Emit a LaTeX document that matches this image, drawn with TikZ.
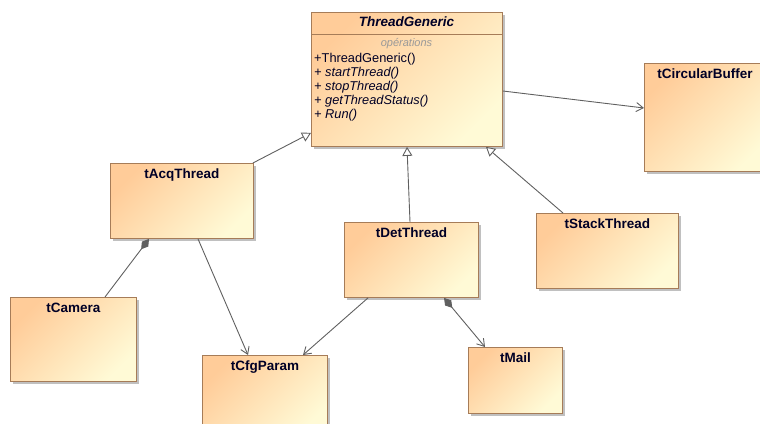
\documentclass[tikz,border=0pt]{standalone}
\usepackage{fontspec}
\setmainfont{Liberation Sans}
\usetikzlibrary{arrows.meta,shadows}
\definecolor{boxorange}{RGB}{255,204,153}
\definecolor{boxcream}{RGB}{255,250,214}
\definecolor{boxedge}{RGB}{166,124,88}
\definecolor{linkgray}{RGB}{96,96,96}
\tikzset{
  cls/.style={draw=boxedge, line width=0.9pt, inner sep=0pt, anchor=north west,
    top color=boxorange, bottom color=boxcream, shading angle=45,
    drop shadow={shadow xshift=3pt, shadow yshift=-3pt, fill=black!45, opacity=0.55}},
  ttl/.style={anchor=base, font=\fontsize{13.5}{15}\selectfont\bfseries, inner sep=0pt, text=black!85!blue},
  op/.style={anchor=base west, font=\fontsize{12.8}{14}\selectfont, inner sep=0pt, text=black!85!blue},
  opcat/.style={anchor=base, font=\fontsize{11}{13}\selectfont\itshape, inner sep=0pt, text=black!40},
  rel/.style={draw=linkgray, line width=0.9pt},
  gen/.style={rel, -{Triangle[open, length=9pt, width=10pt, fill=white]}},
  assoc/.style={rel, -{Straight Barb[length=7pt, width=9pt]}},
  comp/.style={rel, {Diamond[length=13pt, width=8pt, fill=linkgray]}-},
  compnav/.style={rel, {Diamond[length=13pt, width=8pt, fill=linkgray]}-{Straight Barb[length=7pt, width=9pt]}},
}
\begin{document}
\begin{tikzpicture}[x=1pt, y=-1pt]
\useasboundingbox (0,0) rectangle (760,423);
\begin{scope}
\clip (0,0) rectangle (760,423);

% class boxes
\node[cls, minimum width=191pt, minimum height=134pt] (tg) at (311,12) {};
\node[cls, minimum width=143pt, minimum height=75pt] (acq) at (110,163) {};
\node[cls, minimum width=134pt, minimum height=75pt] (det) at (344,222) {};
\node[cls, minimum width=142pt, minimum height=75pt] (stack) at (536,213) {};
\node[cls, minimum width=126pt, minimum height=108pt] (circ) at (644,63) {};
\node[cls, minimum width=126pt, minimum height=84pt] (cam) at (10,297) {};
\node[cls, minimum width=125pt, minimum height=80pt] (cfg) at (202,355) {};
\node[cls, minimum width=94pt, minimum height=66pt] (mail) at (468,347) {};

% ThreadGeneric compartments
\draw[boxedge, line width=0.9pt] (311,34) -- (502,34);
\node[ttl, font=\fontsize{13.5}{15}\selectfont\bfseries\itshape] (tgname) at (406.5,27) {ThreadGeneric};
\node[opcat] (tgops) at (406.5,46) {opérations};
\node[op] (op1) at (314,62) {+ThreadGeneric()};
\node[op] (op2) at (314,76.2) {\itshape + startThread()};
\node[op] (op3) at (314,90.4) {\itshape + stopThread()};
\node[op] (op4) at (314,104.6) {\itshape + getThreadStatus()};
\node[op] (op5) at (314,118.8) {\itshape + Run()};

% class names
\node[ttl] (acqname) at ([yshift=-15.5pt]acq.north) {tAcqThread};
\node[ttl] (detname) at ([yshift=-15.5pt]det.north) {tDetThread};
\node[ttl] (stackname) at ([yshift=-15.5pt]stack.north) {tStackThread};
\node[ttl] (circname) at (705,78.5) {tCircularBuffer};
\node[ttl] (camname) at ([yshift=-15.5pt]cam.north) {tCamera};
\node[ttl] (cfgname) at ([yshift=-15.5pt]cfg.north) {tCfgParam};
\node[ttl] (mailname) at ([yshift=-15.5pt]mail.north) {tMail};

% inheritance
\draw[gen] ([xshift=-1pt]acq.north east) -- ([yshift=14pt]tg.south west);
\draw[gen] ([xshift=66pt]det.north west) -- ([xshift=96pt]tg.south west);
\draw[gen] ([xshift=27pt]stack.north west) -- ([xshift=175pt]tg.south west);

% associations
\draw[assoc] ([yshift=-79pt]tg.north east) -- ([yshift=-45pt]circ.north west);
\draw[assoc] ([xshift=88pt]acq.south west) -- ([xshift=46pt]cfg.north west);
\draw[assoc] ([xshift=24pt]det.south west) -- ([xshift=101pt]cfg.north west);

% compositions
\draw[comp] ([xshift=39pt]acq.south west) -- ([xshift=95pt]cam.north west);
\draw[compnav] ([xshift=100pt]det.south west) -- ([xshift=17pt]mail.north west);
\end{scope}
\end{tikzpicture}
\end{document}
